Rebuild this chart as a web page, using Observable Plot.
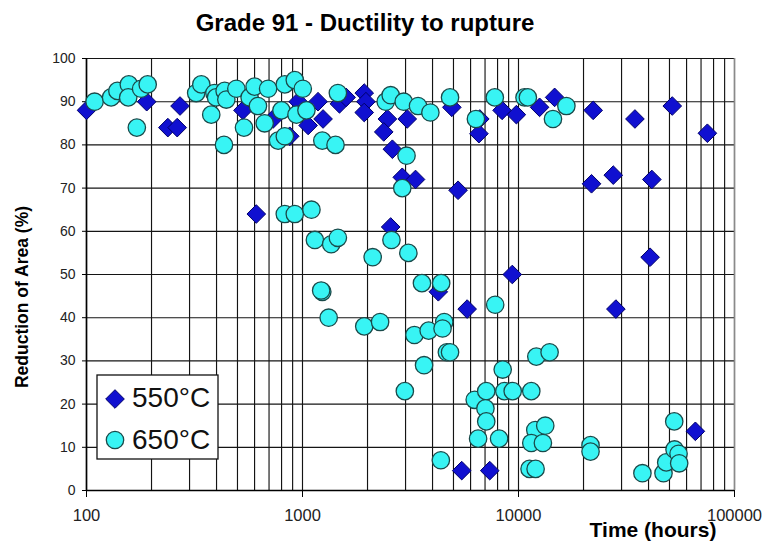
<!DOCTYPE html>
<html>
<head>
<meta charset="utf-8">
<script src="https://cdn.jsdelivr.net/npm/d3@7"></script>
<script src="https://cdn.jsdelivr.net/npm/@observablehq/plot@0.6"></script>
<style>
  html, body { margin: 0; padding: 0; background: #fff; }
  #chart svg { display: block; }
</style>
</head>
<body>
<div id="chart"></div>
<script>
// ---- Data ----
const title = "Grade 91 - Ductility to rupture";
const xLabel = "Time (hours)";
const yLabel = "Reduction of Area (%)";
const series = ["550°C", "650°C"];

const t550 = [100, 190, 238, 263, 271, 530, 731, 873, 955, 1062, 1180, 1245, 1483, 1592, 1931, 1966, 1931,
  2472, 2378, 2607, 3054, 2897, 3336, 2560, 4913, 6620, 6557, 8394, 9775, 12520, 14700, 22170, 34600,
  51500, 74900, 5250, 21780, 27460, 41420, 40660, 9360, 4255, 5785, 28240, 5460, 7360, 65900, 611];
const ra550 = [88, 90, 84, 84, 89, 88, 86, 82, 90, 84.5, 90, 86, 89.5, 91, 92, 90, 87.5,
  86, 83, 79, 86, 72.5, 72, 61, 88.7, 86, 82.6, 88, 87, 88.7, 91, 88, 86,
  89, 82.7, 69.5, 71, 73, 72, 54, 50, 46, 42, 42, 4.6, 4.6, 13.7, 64];

const t650 = [109, 130, 139, 157, 156, 179, 192, 171, 322, 340, 378, 391, 398, 436, 444, 433, 494, 536,
  569, 600, 622, 668, 693, 771, 799, 828, 921, 938, 828, 1003, 1043, 1235, 1422, 1458, 2428, 2560, 2942,
  3427, 3909, 3031, 4820, 6350, 7770, 10660, 11050, 16660, 14440,
  2897, 828, 921, 1100, 1141, 1358, 1458, 2113, 2581, 3091, 1235, 1220, 1322, 1931, 2287, 3573, 4385,
  7800, 3296, 3838, 4530, 4450, 3654, 2977, 4660, 4820, 8450, 12090, 13930, 6270, 7090, 7030, 7090,
  8600, 9400, 11460, 6500, 8130, 4370, 11960, 13300, 11460, 12970, 11250, 12000, 21550, 21550, 37470,
  46910, 48300, 52770, 55070, 55450, 52600];
const ra650 = [90, 91, 92.5, 94, 91, 93, 94, 84, 92, 94, 87, 92, 91, 92.5, 90.5, 80, 93, 84,
  91, 93.5, 89, 85, 93, 81, 88, 94, 95, 87, 82, 93, 88, 81, 80, 92, 90, 91.5, 90,
  89, 87.5, 77.5, 91, 86, 91, 91, 91, 89, 86,
  70, 64, 64, 65, 58, 57, 58.5, 54, 58, 55, 46, 46.3, 40, 38, 39, 48, 48,
  43, 36, 37, 39, 37.5, 29, 23, 32, 32, 28, 31, 32, 21, 23, 19, 16,
  23, 23, 23, 12, 12, 7, 14, 15, 11, 11, 5, 5, 10.5, 9, 4,
  4, 6.5, 9.5, 8.5, 6.3, 16];

const xTicks = [100, 1000, 10000, 100000];
const xGrid = [100, 200, 300, 400, 500, 600, 700, 800, 900,
  1000, 2000, 3000, 4000, 5000, 6000, 7000, 8000, 9000,
  10000, 20000, 30000, 40000, 50000, 60000, 70000, 80000, 90000, 100000];
const yTicks = [0, 10, 20, 30, 40, 50, 60, 70, 80, 90, 100];

const d550 = t550.map((t, i) => ({time: t, ra: ra550[i]}));
const d650 = t650.map((t, i) => ({time: t, ra: ra650[i]}));

const FONT = "'Liberation Sans', Arial, Helvetica, sans-serif";
const BLUE = "#1010d0", BLUE_S = "#00006a";
const CYAN = "#38f4f4", CYAN_S = "#1a4a4a";

const chart = Plot.plot({
  width: 766,
  height: 543,
  marginLeft: 86,
  marginRight: 32,
  marginTop: 58,
  marginBottom: 53,
  style: {fontFamily: FONT, background: "#fff", color: "#000", overflow: "visible"},
  x: {type: "log", domain: [100, 100000]},
  y: {domain: [0, 100]},
  marks: [
    Plot.ruleX(xGrid, {stroke: "#141414", strokeWidth: 1.15}),
    Plot.ruleY(yTicks, {stroke: "#141414", strokeWidth: 1.15}),
    Plot.ruleX([100000], {stroke: "#8a8a8a", strokeWidth: 1.5}),
    Plot.ruleX([100], {stroke: "#000", strokeWidth: 1.6}),
    Plot.ruleY([0], {stroke: "#000", strokeWidth: 1.6}),
    Plot.axisY({ticks: yTicks, tickSize: 4, tickPadding: 7, fontSize: 14, label: null, stroke: "#000", color: "#222"}),
    Plot.axisX({ticks: xTicks, tickSize: 7, tickPadding: 12, fontSize: 16.5, label: null, tickFormat: d => String(d), stroke: "#000", color: "#222"}),
    Plot.dot(d550, {x: "time", y: "ra", symbol: "diamond2", r: 8.4, fill: BLUE, stroke: BLUE_S, strokeWidth: 1}),
    Plot.dot(d650, {x: "time", y: "ra", r: 8.7, fill: CYAN, stroke: CYAN_S, strokeWidth: 1.3})
  ]
});

document.getElementById("chart").appendChild(chart);

const svg = d3.select(chart);

// ---- Titles ----
const tg = svg.append("g").attr("font-family", FONT).attr("font-weight", "bold").attr("fill", "#000");
tg.append("text").attr("x", 365).attr("y", 31).attr("text-anchor", "middle")
  .attr("font-size", 24).text(title);
tg.append("text").attr("transform", "translate(28,297) rotate(-90)").attr("text-anchor", "middle")
  .attr("font-size", 17.5).text(yLabel);
tg.append("text").attr("x", 653).attr("y", 537).attr("text-anchor", "middle")
  .attr("font-size", 21).text(xLabel);

// ---- Legend box (inside plot area, lower-left) ----
const lg = svg.append("g").attr("font-family", FONT);
lg.append("rect").attr("x", 97).attr("y", 375).attr("width", 121).attr("height", 84)
  .attr("fill", "#fff").attr("stroke", "#111").attr("stroke-width", 1.3);
const dsz = Math.PI * 8.4 * 8.4;
lg.append("path").attr("d", d3.symbol(d3.symbolDiamond2, dsz)())
  .attr("transform", "translate(115,399)").attr("fill", BLUE).attr("stroke", BLUE_S).attr("stroke-width", 1);
lg.append("circle").attr("cx", 115).attr("cy", 440).attr("r", 8.7)
  .attr("fill", CYAN).attr("stroke", CYAN_S).attr("stroke-width", 1.3);
lg.append("text").attr("x", 132).attr("y", 407).attr("text-anchor", "start").attr("font-size", 28).attr("fill", "#111").text(series[0]);
lg.append("text").attr("x", 132).attr("y", 449).attr("text-anchor", "start").attr("font-size", 28).attr("fill", "#111").text(series[1]);
</script>
</body>
</html>
